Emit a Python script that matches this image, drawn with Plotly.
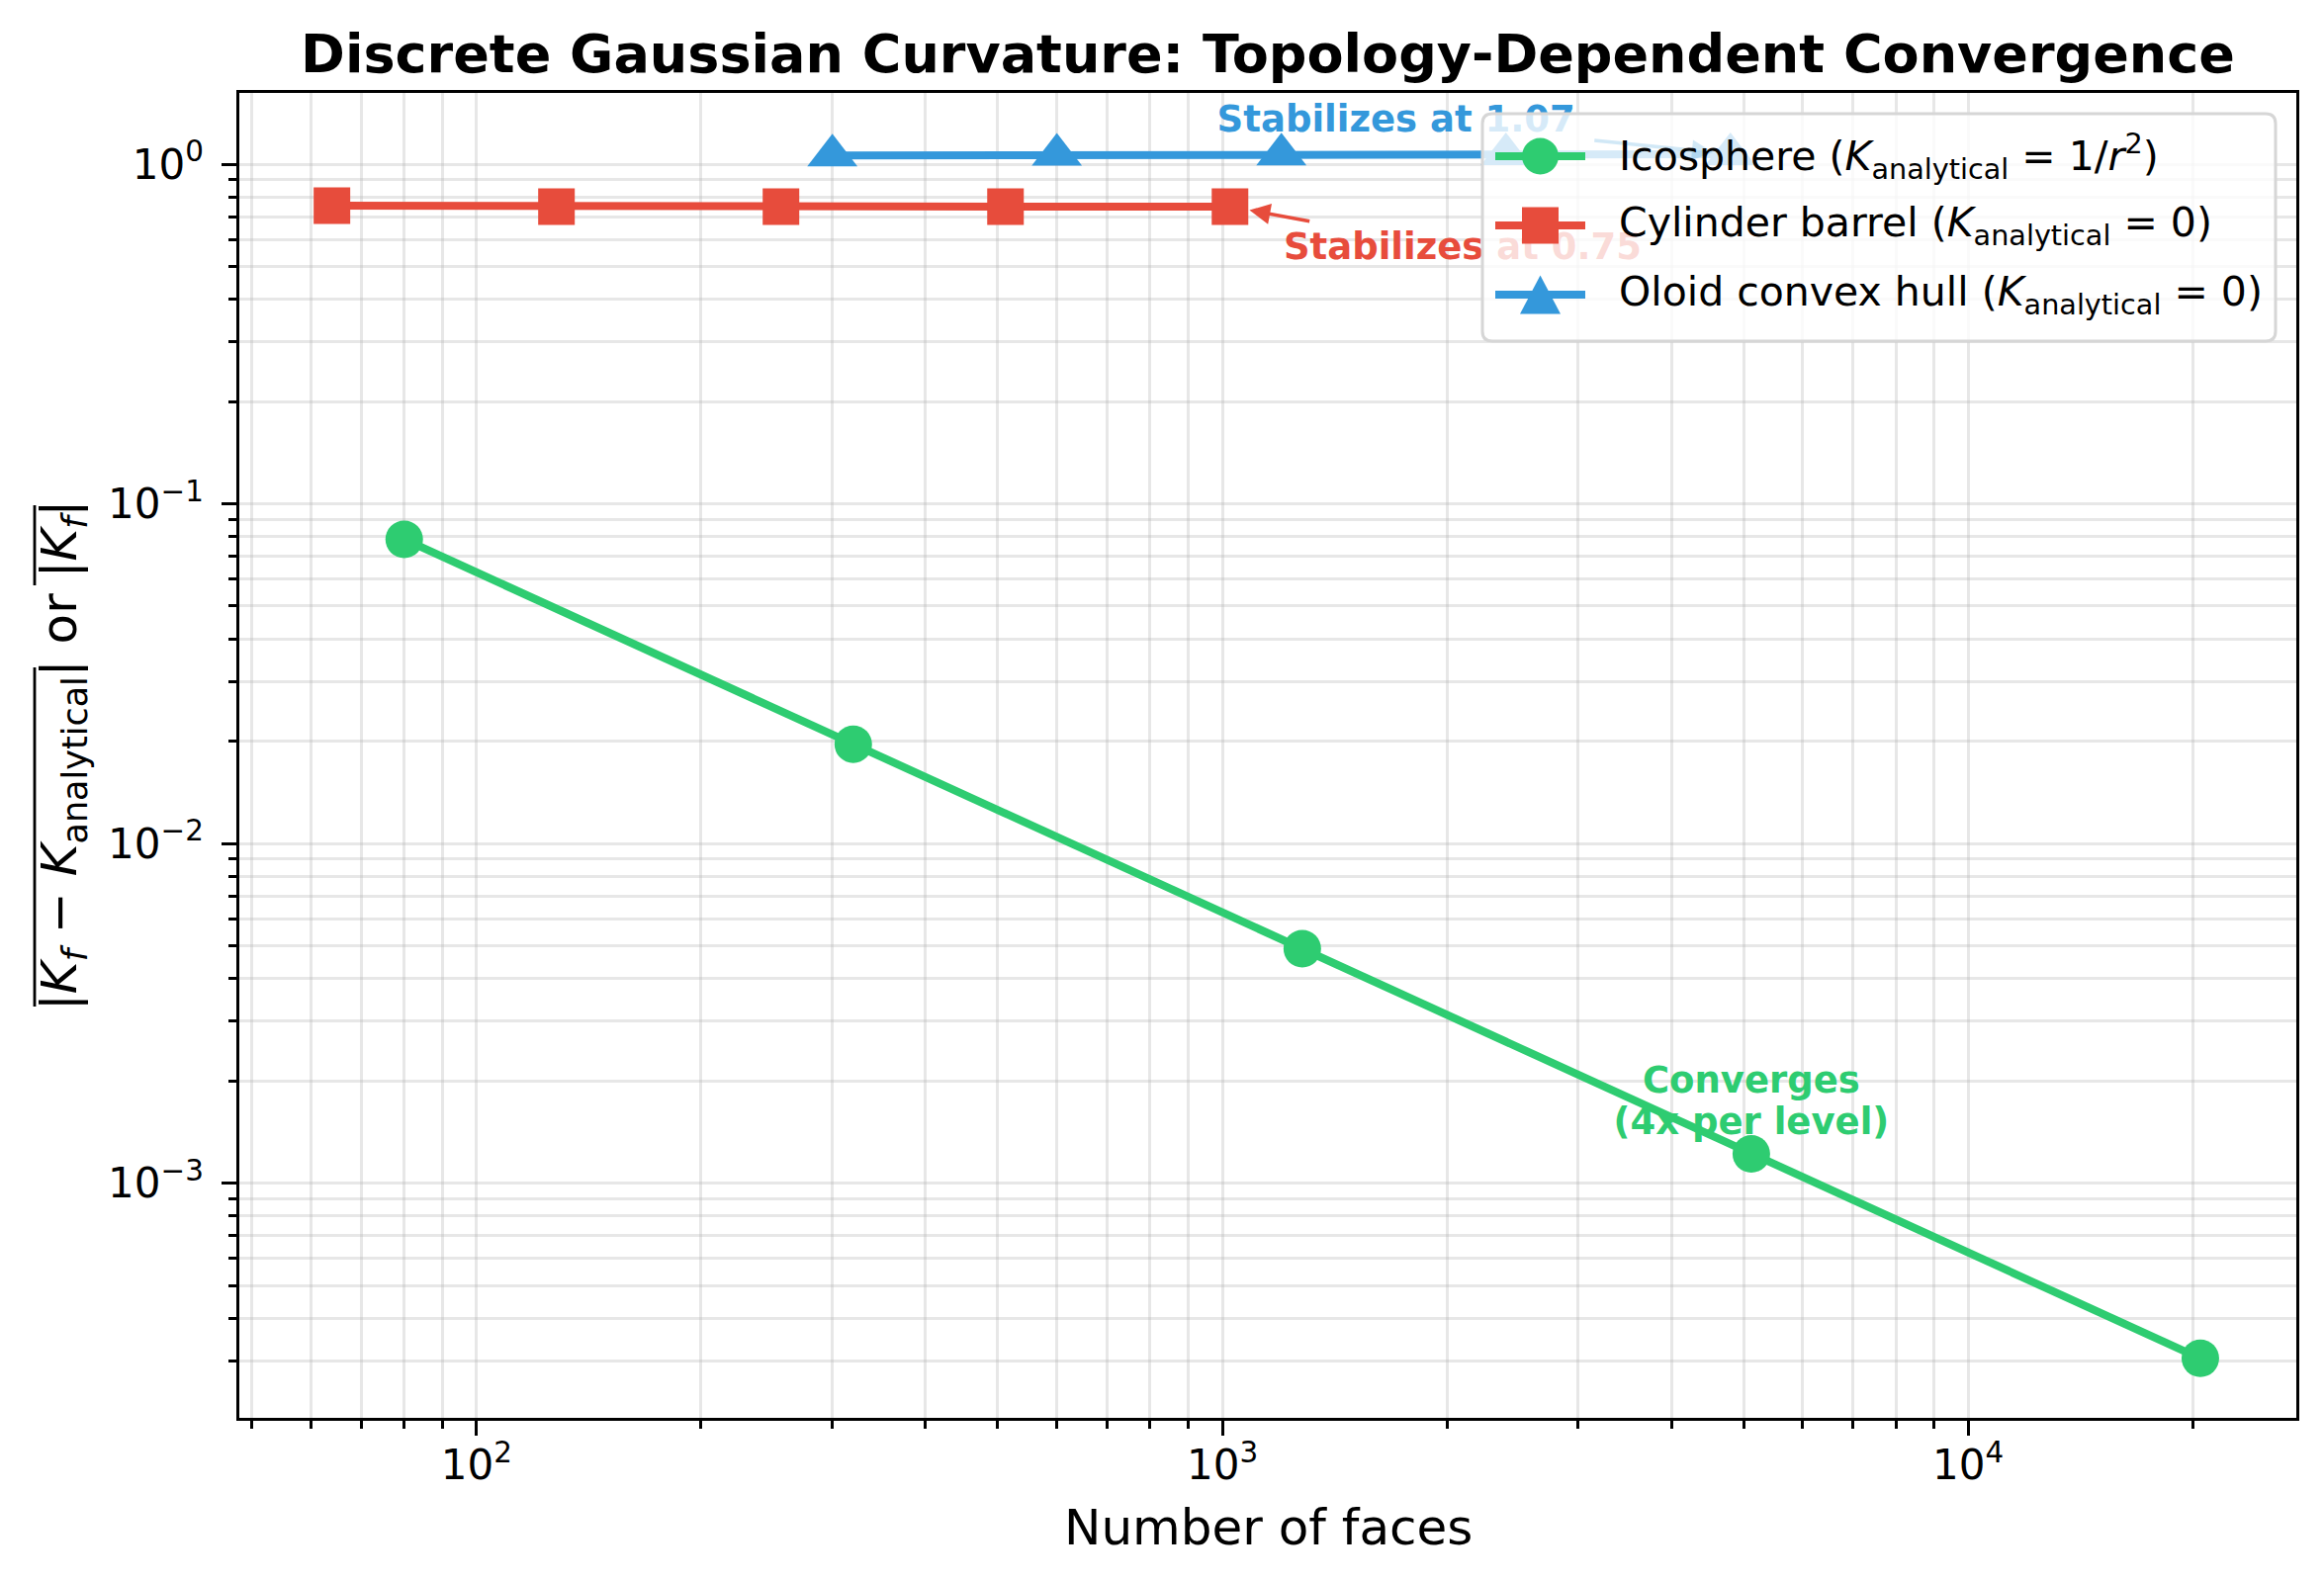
import numpy as np
import plotly.graph_objects as go

# ---------------- data ----------------
ico_faces = [80, 320, 1280, 5120, 20480]
ico_err = [0.0786, 0.0196, 0.0049, 0.00122, 0.000305]

cyl_faces = [64, 128, 256, 512, 1024]
cyl_val = [0.755, 0.750, 0.750, 0.750, 0.750]

oloid_faces = [300, 600, 1200, 2400, 4800]
oloid_val = [1.060, 1.065, 1.068, 1.070, 1.070]

series_names = [
    "Icosphere (<i>K</i><sub>analytical</sub> = 1/<i>r</i><sup>2</sup>)",
    "Cylinder barrel (<i>K</i><sub>analytical</sub> = 0)",
    "Oloid convex hull (<i>K</i><sub>analytical</sub> = 0)",
]
series_colors = ["#2ecc71", "#e74c3c", "#3498db"]
series_symbols = ["circle", "square", "triangle-up"]
series_msize = [38, 37, 44]

# annotation texts and their anchor positions (data coords)
note_texts = ["Stabilizes at 1.07", "Stabilizes at 0.75", "Converges", "(4x per level)"]
note_x = [1710, 2100, 5120, 5120]
note_y = [1.325, 0.558, 0.00196, 0.00148]
note_colors = ["#3498db", "#e74c3c", "#2ecc71", "#2ecc71"]
# arrow tails (data coords)
arrow_tail_x = [3140, 1315]
arrow_tail_y = [1.175, 0.678]

x_ticks = [100, 1000, 10000]
x_ticktext = ["10<sup>2</sup>", "10<sup>3</sup>", "10<sup>4</sup>"]
y_ticks = [1e-3, 1e-2, 1e-1, 1]
y_ticktext = ["10<sup>−3</sup>", "10<sup>−2</sup>", "10<sup>−1</sup>", "10<sup>0</sup>"]

FONT = "DejaVu Sans"

# ---------------- geometry (page pixels) ----------------
BODY = 8                      # default page margin around the plot div
W, H = 2350 - 2 * BODY, 1599 - 2 * BODY
PL, PR, PT, PB = 242, 2322, 94, 1434     # plot area in page pixels
PW, PH = PR - PL, PB - PT


def px_x(px):
    return (px - PL) / PW


def px_y(py):
    return (PB - py) / PH


fig = go.Figure()

xs = [ico_faces, cyl_faces, oloid_faces]
ys = [ico_err, cyl_val, oloid_val]
for x, y, name, c, sym, ms in zip(xs, ys, series_names, series_colors,
                                  series_symbols, series_msize):
    fig.add_trace(go.Scatter(
        x=x, y=y, name=name, mode="lines+markers", showlegend=False,
        line=dict(color=c, width=8),
        marker=dict(symbol=sym, size=ms, color=c, line=dict(width=0)),
        cliponaxis=False,
    ))

# annotation texts drawn as text traces (so the legend box overlays them)
for t, x, y, c in zip(note_texts, note_x, note_y, note_colors):
    fig.add_trace(go.Scatter(
        x=[x], y=[y], mode="text", text=[t], showlegend=False,
        textposition="middle center", hoverinfo="skip",
        textfont=dict(family=FONT, size=37, color=c, weight="bold"),
        cliponaxis=False,
    ))

# arrows
fig.add_annotation(
    x=np.log10(oloid_faces[-1]), y=np.log10(oloid_val[-1]),
    ax=np.log10(arrow_tail_x[0]), ay=np.log10(arrow_tail_y[0]),
    xref="x", yref="y", axref="x", ayref="y", text="",
    showarrow=True, arrowhead=2, arrowsize=1.2, arrowwidth=3.5,
    arrowcolor="rgba(52,152,219,0.22)", standoff=18,
)
fig.add_annotation(
    x=np.log10(cyl_faces[-1]), y=np.log10(cyl_val[-1]),
    ax=np.log10(arrow_tail_x[1]), ay=np.log10(arrow_tail_y[1]),
    xref="x", yref="y", axref="x", ayref="y", text="",
    showarrow=True, arrowhead=2, arrowsize=1.2, arrowwidth=3.5,
    arrowcolor="#e74c3c", standoff=20,
)

# ---------------- legend (drawn as an overlay box) ----------------
lx0, lx1, ly0, ly1 = px_x(1499), px_x(2301), px_y(345), px_y(115)
rx, ry = 10 / PW, 10 / PH
box_path = (f"M {lx0+rx},{ly1} L {lx1-rx},{ly1} Q {lx1},{ly1} {lx1},{ly1-ry} "
            f"L {lx1},{ly0+ry} Q {lx1},{ly0} {lx1-rx},{ly0} L {lx0+rx},{ly0} "
            f"Q {lx0},{ly0} {lx0},{ly0+ry} L {lx0},{ly1-ry} Q {lx0},{ly1} {lx0+rx},{ly1} Z")
fig.add_shape(type="path", path=box_path, xref="paper", yref="paper", layer="above",
              fillcolor="rgba(255,255,255,0.8)", line=dict(color="rgb(214,214,214)", width=3))

row_py = [158, 228, 298]
key_x0, key_x1, key_xc, text_x = 1512, 1603, 1557.5, 1635
for name, c, sym, ry_px in zip(series_names, series_colors, series_symbols, row_py):
    yc = px_y(ry_px)
    fig.add_shape(type="line", xref="paper", yref="paper", layer="above",
                  x0=px_x(key_x0), x1=px_x(key_x1), y0=yc, y1=yc,
                  line=dict(color=c, width=8))
    if sym == "circle":
        r = 18.5
        fig.add_shape(type="circle", xref="paper", yref="paper", layer="above",
                      x0=px_x(key_xc - r), x1=px_x(key_xc + r),
                      y0=px_y(ry_px + r), y1=px_y(ry_px - r),
                      fillcolor=c, line=dict(width=0))
    elif sym == "square":
        r = 18.5
        fig.add_shape(type="rect", xref="paper", yref="paper", layer="above",
                      x0=px_x(key_xc - r), x1=px_x(key_xc + r),
                      y0=px_y(ry_px + r), y1=px_y(ry_px - r),
                      fillcolor=c, line=dict(width=0))
    else:
        hw, hh = 20.5, 19.5
        tri = (f"M {px_x(key_xc)},{px_y(ry_px - hh)} L {px_x(key_xc + hw)},{px_y(ry_px + hh)} "
               f"L {px_x(key_xc - hw)},{px_y(ry_px + hh)} Z")
        fig.add_shape(type="path", path=tri, xref="paper", yref="paper", layer="above",
                      fillcolor=c, line=dict(width=0))
    fig.add_annotation(x=px_x(text_x), y=yc, xref="paper", yref="paper",
                       xanchor="left", yanchor="middle", text=name, showarrow=False,
                       font=dict(family=FONT, size=41, color="black"))

# ---------------- axis titles ----------------
fig.add_annotation(
    x=0.5, y=px_y(1545), xref="paper", yref="paper", xanchor="center", yanchor="middle",
    text="Number of faces", showarrow=False,
    font=dict(family=FONT, size=50, color="black"),
)
fig.add_annotation(
    x=px_x(63), y=0.5, xref="paper", yref="paper", xanchor="center", yanchor="middle",
    textangle=-90, showarrow=False,
    text=("|<i>K</i><sub><i>f</i></sub> − <i>K</i><sub>analytical</sub>| or "
          "|<i>K</i><sub><i>f</i></sub>|"),
    font=dict(family=FONT, size=50, color="black"),
)
# over-bars of the y label
for (pa, pb) in [(675, 1018), (511, 592)]:
    fig.add_shape(type="line", xref="paper", yref="paper", layer="above",
                  x0=px_x(35), x1=px_x(35), y0=px_y(pa), y1=px_y(pb),
                  line=dict(color="black", width=2.8))

grid_c = "rgba(176,176,176,0.3)"


def minor_vals(lo, hi):
    return [m * 10.0 ** e for e in range(lo, hi) for m in range(2, 10)]


axis_common = dict(
    type="log", tickmode="array",
    showline=True, linecolor="black", linewidth=3.3, mirror=True,
    ticks="outside", ticklen=14.6, tickwidth=3.3, tickcolor="black",
    showgrid=True, gridcolor=grid_c, gridwidth=3.3,
    zeroline=False,
    tickfont=dict(family=FONT, size=42, color="black"),
)
minor_common = dict(ticks="outside", ticklen=8.3, tickwidth=2.5, tickcolor="black",
                    showgrid=True, gridcolor=grid_c, gridwidth=3.3, tickmode="array")

fig.update_xaxes(
    **axis_common, range=[1.682, 4.440], ticklabelstandoff=-6,
    tickvals=x_ticks, ticktext=x_ticktext,
    minor=dict(**minor_common, tickvals=minor_vals(1, 5)),
)
fig.update_yaxes(
    **axis_common, range=[-3.691, 0.2096], ticklabelstandoff=10,
    tickvals=y_ticks, ticktext=y_ticktext,
    minor=dict(**minor_common, tickvals=minor_vals(-4, 1)),
)

fig.update_layout(
    width=W, height=H,
    margin=dict(l=PL - BODY, r=W - (PR - BODY), t=PT - BODY, b=H - (PB - BODY)),
    paper_bgcolor="white", plot_bgcolor="white",
    font=dict(family=FONT, color="black"),
    showlegend=False,
    title=dict(
        text="<b>Discrete Gaussian Curvature: Topology-Dependent Convergence</b>",
        font=dict(family=FONT, size=54, color="black"),
        x=0.5, xref="paper", xanchor="center",
        y=1 - (54 - BODY) / H, yref="container", yanchor="middle",
    ),
)

fig.write_html("out.html")
